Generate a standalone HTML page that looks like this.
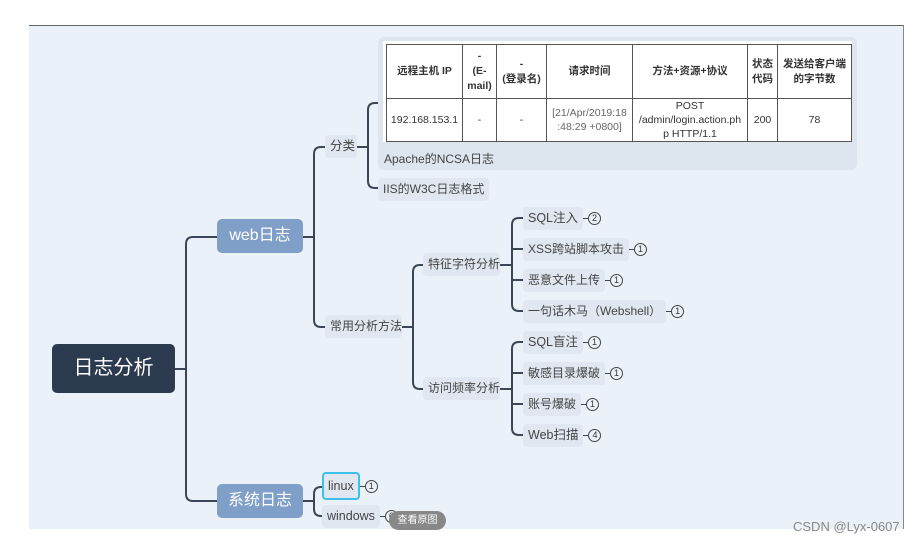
<!DOCTYPE html>
<html><head><meta charset="utf-8"><style>
body{margin:0;width:915px;height:545px;background:#fff;position:relative;overflow:hidden;font-family:"Liberation Sans","Noto Sans CJK SC",sans-serif;}
.bg{position:absolute;left:29px;top:25px;width:874px;height:503px;background:#eaf1f8;border-top:1px solid #666;border-right:1px solid #888;}
.n{position:absolute;background:#e0e7f0;color:#444;font-size:12.5px;border-radius:4px;line-height:23px;padding:0 5px;white-space:nowrap}
.r{position:absolute;display:flex;align-items:center;white-space:nowrap}
.r .t{background:#e0e7f0;color:#444;font-size:12.5px;border-radius:4px;line-height:23px;padding:0 5px}
.r .d{width:5px;height:0;border-top:1.5px solid #3b4656}
.r .c{width:11px;height:11px;border:1.3px solid #444;border-radius:50%;font-size:9px;line-height:11px;text-align:center;color:#333;background:#eaf1f8}
.b{position:absolute;border-radius:5px;color:#fff;text-align:center}
table{border-collapse:collapse;position:absolute;left:386px;top:44px;font-size:10.5px;color:#333}
td{border:1px solid #555;text-align:center;padding:0;line-height:14px}
th{border:1px solid #555;font-weight:bold;line-height:15px;padding:0}
</style></head><body>
<div class="bg"></div>
<svg width="915" height="545" style="position:absolute;left:0;top:0" fill="none" stroke="#3b4656" stroke-width="2">
<path d="M175 369H186M193 237H217M186 244Q186 237 193 237M186 244V494Q186 501 193 501H217"/>
<path d="M303 237H314M321 147H325M314 154Q314 147 321 147M314 154V320Q314 327 321 327H325"/>
<path d="M357 147H368M375 103H380M368 110Q368 103 375 103M368 110V181Q368 188 375 188H378"/>
<path d="M402 327H413M420 265H423M413 272Q413 265 420 265M413 272V382Q413 389 420 389H423"/>
<path d="M500 265H512M519 218H523M512 225Q512 218 519 218M512 225V304Q512 311 519 311H523M512 249H523M512 280H523"/>
<path d="M500 389H512M519 342H523M512 349Q512 342 519 342M512 349V428Q512 435 519 435H523M512 373H523M512 404H523"/>
<path d="M303 501H314M321 487H322M314 494Q314 487 321 487M314 494V509Q314 516 321 516H322"/>
</svg>
<div class="b" style="left:52px;top:344px;width:123px;height:49px;background:#2c3a4f;font-size:20px;line-height:49px">日志分析</div>
<div class="b" style="left:217px;top:219px;width:86px;height:34px;background:#7f9fc8;font-size:16px;line-height:34px">web日志</div>
<div class="b" style="left:217px;top:484px;width:86px;height:34px;background:#7f9fc8;font-size:16px;line-height:34px">系统日志</div>
<div class="n" style="left:325px;top:135px;width:22px">分类</div>
<div class="n" style="left:325px;top:315px;width:67px;font-size:12px">常用分析方法</div>
<div style="position:absolute;left:378px;top:37px;width:479px;height:133px;background:#dde5ef;border-radius:6px"></div>
<div style="position:absolute;left:383px;top:41px;width:469px;height:101px;background:#fff"></div>
<table>
<tr style="height:54px"><th style="width:75px">远程主机 IP</th><th style="width:33px">-<br>(E-<br>mail)</th><th style="width:49px">-<br>(登录名)</th><th style="width:85px">请求时间</th><th style="width:114px">方法+资源+协议</th><th style="width:29px">状态<br>代码</th><th style="width:73px">发送给客户端<br>的字节数</th></tr>
<tr style="height:41px"><td>192.168.153.1</td><td>-</td><td>-</td><td style="color:#666">[21/Apr/2019:18<br>:48:29 +0800]</td><td>POST<br>/admin/login.action.ph<br>p HTTP/1.1</td><td>200</td><td>78</td></tr>
</table>
<div style="position:absolute;left:384px;top:150px;font-size:12px;color:#444">Apache的NCSA日志</div>
<div class="n" style="left:378px;top:178px;font-size:12px">IIS的W3C日志格式</div>
<div class="n" style="left:423px;top:253px;width:67px;font-size:12px">特征字符分析</div>
<div class="n" style="left:423px;top:377px;width:67px;font-size:12px">访问频率分析</div>
<div class="r" style="left:523px;top:207px"><span class="t">SQL注入</span><span class="d"></span><span class="c">2</span></div>
<div class="r" style="left:523px;top:238px"><span class="t" style="font-size:12px">XSS跨站脚本攻击</span><span class="d"></span><span class="c">1</span></div>
<div class="r" style="left:523px;top:269px"><span class="t" style="font-size:12px">恶意文件上传</span><span class="d"></span><span class="c">1</span></div>
<div class="r" style="left:523px;top:300px"><span class="t" style="font-size:12px">一句话木马（Webshell）</span><span class="d"></span><span class="c">1</span></div>
<div class="r" style="left:523px;top:331px"><span class="t">SQL盲注</span><span class="d"></span><span class="c">1</span></div>
<div class="r" style="left:523px;top:362px"><span class="t" style="font-size:12px">敏感目录爆破</span><span class="d"></span><span class="c">1</span></div>
<div class="r" style="left:523px;top:393px"><span class="t" style="font-size:12px">账号爆破</span><span class="d"></span><span class="c">1</span></div>
<div class="r" style="left:523px;top:424px"><span class="t">Web扫描</span><span class="d"></span><span class="c">4</span></div>
<div class="r" style="left:322px;top:472px"><span class="t" style="border:2px solid #3cc0ea;padding:0 4px;line-height:24px">linux</span><span class="d"></span><span class="c">1</span></div>
<div class="r" style="left:322px;top:505px"><span class="t">windows</span><span class="d"></span><span class="c">6</span></div>
<div style="position:absolute;left:389px;top:511px;width:57px;height:19px;border-radius:10px;background:#888;color:#fff;font-size:10px;line-height:19px;text-align:center">查看原图</div>
<div style="position:absolute;left:793px;top:519px;font-size:13px;color:#888">CSDN @Lyx-0607</div>
</body></html>
